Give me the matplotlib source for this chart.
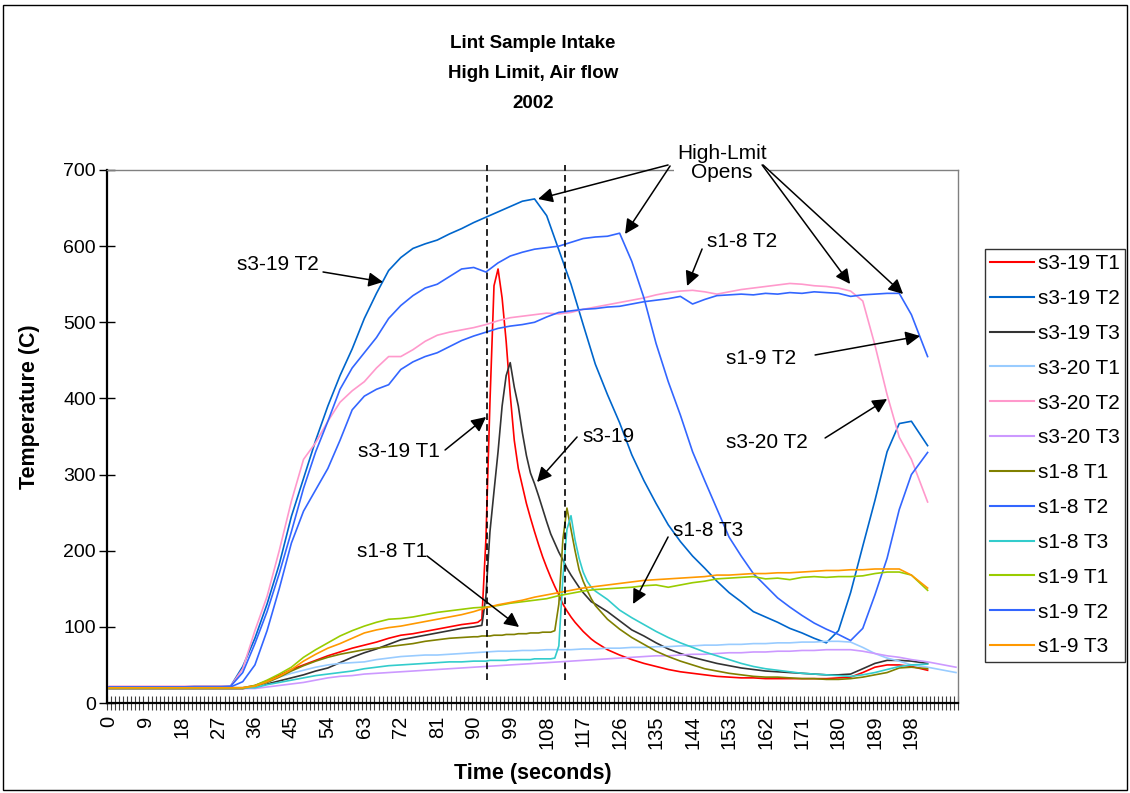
import matplotlib
matplotlib.use("Agg")
import matplotlib.pyplot as plt
from matplotlib.patches import Rectangle
from matplotlib.lines import Line2D
import numpy as np

plt.rcParams["font.family"] = ["Liberation Sans", "DejaVu Sans"]

W, H = 1130, 793

# ---- time bases (seconds) ----
T3 = [0, 3, 6, 9, 12, 15, 18, 21, 24, 27, 30, 33, 36, 39, 42, 45, 48, 51, 54, 57,
      60, 63, 66, 69, 72, 75, 78, 81, 84, 87, 90, 93, 96, 99, 102, 105, 108, 111, 114, 117,
      120, 123, 126, 129, 132, 135, 138, 141, 144, 147, 150, 153, 156, 159, 162, 165, 168, 171, 174, 177,
      180, 183, 186, 189, 192, 195, 198, 202]
T_LONG = T3 + [205, 209]
T_FINE = [0, 3, 6, 9, 12, 15, 18, 21, 24, 27, 30, 33, 36, 39, 42, 45, 48, 51, 54, 57,
          60, 63, 66, 69, 72, 75, 78, 81, 84, 87,
          90, 91, 92, 93, 94, 95, 96, 97, 98, 99, 100, 101, 102, 103, 104, 105, 106, 107, 108, 109,
          110, 111, 112, 113, 114, 115, 116, 117, 118, 119,
          120, 123, 126, 129, 132, 135, 138, 141, 144, 147, 150, 153, 156, 159, 162, 165, 168, 171, 174, 177,
          180, 183, 186, 189, 192, 195, 198, 202]

# ---- series (temperature, C) ----
S319_T1 = [20, 20, 20, 20, 20, 20, 20, 20, 20, 20, 20, 20, 23, 29, 36, 44, 50, 56, 62, 67,
           72, 76, 80, 85, 89, 91, 94, 97, 100, 103,
           105, 106, 110, 215, 395, 548, 570, 532, 475, 405, 345, 308, 285, 262, 243, 225, 208, 192, 178, 165,
           153, 142, 130, 121, 113, 106, 100, 94, 89, 84,
           80, 70, 63, 57, 52, 48, 44, 41, 39, 37, 35, 34, 33, 33, 32, 32, 32, 32, 32, 32,
           33, 34, 40, 47, 50, 50, 48, 43]
S319_T2 = [21, 21, 21, 21, 21, 21, 21, 22, 22, 22, 22, 48, 85, 130, 182, 245, 295, 345, 390, 430,
           465, 505, 538, 568, 585, 597, 603, 608, 616, 623, 631, 638, 645, 652, 659, 662, 640, 595, 550, 497,
           445, 405, 368, 326, 292, 262, 234, 212, 193, 177, 160, 145, 133, 120, 113, 106, 98, 92, 85, 79,
           95, 145, 206, 266, 330, 367, 370, 338]
S319_T3 = [19, 19, 19, 19, 19, 19, 19, 19, 19, 19, 19, 19, 21, 25, 29, 33, 37, 42, 46, 53,
           60, 66, 71, 77, 83, 86, 89, 92, 95, 98,
           100, 101, 102, 140, 225, 278, 330, 390, 430, 447, 415, 390, 355, 325, 302, 288, 272, 255, 238, 222,
           210, 198, 188, 177, 168, 160, 152, 145, 139, 133,
           130, 120, 108, 96, 88, 79, 71, 65, 60, 56, 52, 49, 46, 44, 42, 41, 40, 39, 38, 37,
           37, 38, 45, 52, 56, 56, 55, 52]
S320_T1 = [20, 20, 20, 20, 20, 20, 20, 20, 20, 20, 20, 20, 20, 27, 34, 39, 43, 47, 50, 52,
           53, 54, 57, 59, 61, 62, 63, 63, 64, 65, 66, 67, 68, 68, 69, 69, 70, 70, 70, 71,
           71, 72, 72, 73, 73, 74, 74, 75, 75, 76, 76, 77, 77, 78, 78, 79, 79, 80, 80, 81,
           81, 80, 73, 65, 59, 55, 50, 47, 44, 40]
S320_T2 = [22, 22, 22, 22, 22, 22, 22, 22, 22, 22, 22, 45, 95, 140, 200, 265, 320, 342, 370, 395,
           410, 422, 440, 455, 455, 464, 475, 483, 487, 490, 493, 497, 502, 506, 508, 510, 512, 511, 513, 517,
           520, 523, 526, 529, 532, 536, 539, 541, 542, 540, 537, 540, 543, 545, 547, 549, 551, 550, 548, 547,
           545, 541, 528, 470, 405, 349, 320, 264]
S320_T3 = [19, 19, 19, 19, 19, 19, 19, 19, 19, 19, 19, 19, 19, 21, 23, 25, 27, 30, 33, 35,
           36, 38, 39, 40, 41, 42, 43, 44, 45, 46, 47, 48, 49, 50, 51, 52, 53, 54, 55, 56,
           57, 58, 59, 60, 61, 62, 62, 63, 64, 64, 65, 66, 66, 67, 67, 68, 68, 69, 69, 70,
           70, 70, 68, 65, 62, 60, 57, 54, 51, 47]
S18_T1 = [19, 19, 19, 19, 19, 19, 19, 19, 19, 19, 19, 19, 22, 27, 34, 42, 49, 55, 60, 64,
          67, 70, 72, 74, 76, 78, 81, 83, 85, 86,
          87, 87, 88, 88, 88, 89, 89, 89, 90, 90, 90, 91, 91, 91, 92, 92, 92, 93, 93, 93,
          95, 130, 215, 256, 228, 200, 175, 160, 148, 137,
          128, 110, 97, 86, 77, 68, 61, 55, 50, 45, 42, 39, 37, 35, 34, 34, 33, 32, 32, 31,
          31, 32, 34, 37, 40, 46, 47, 45]
S18_T2 = [21, 21, 21, 21, 21, 21, 21, 21, 21, 21, 22, 40, 78, 120, 170, 225, 282, 330, 370, 412,
          440, 460, 480, 505, 522, 535, 545, 550, 560, 570, 572, 566, 578, 587, 592, 596, 598, 600, 605, 610,
          612, 613, 617, 580, 532, 472, 422, 378, 330, 292, 255, 218, 193, 170, 154, 138, 126, 115, 105, 97,
          90, 82, 98, 142, 190, 254, 300, 329]
S18_T3 = [20, 20, 20, 20, 20, 20, 20, 20, 20, 20, 20, 20, 20, 24, 27, 30, 33, 36, 38, 40,
          42, 45, 47, 49, 50, 51, 52, 53, 54, 54,
          55, 55, 55, 55, 56, 56, 56, 56, 56, 57, 57, 57, 57, 57, 57, 58, 58, 58, 58, 58,
          59, 75, 165, 228, 246, 214, 190, 172, 160, 152,
          147, 136, 122, 112, 103, 94, 86, 79, 73, 67, 62, 57, 52, 48, 45, 43, 41, 39, 38, 37,
          36, 35, 37, 40, 44, 48, 50, 51]
S19_T1 = [20, 20, 20, 20, 20, 20, 20, 20, 20, 20, 20, 20, 23, 30, 38, 47, 60, 70, 79, 88,
          95, 101, 106, 110, 111, 113, 116, 119, 121, 123, 125, 126, 128, 131, 133, 135, 137, 141, 144, 147,
          149, 150, 151, 152, 154, 155, 152, 155, 158, 160, 163, 164, 165, 166, 163, 164, 162, 165, 166, 165,
          166, 166, 167, 170, 172, 172, 168, 148]
S19_T2 = [21, 21, 21, 21, 21, 21, 21, 21, 21, 21, 21, 28, 50, 95, 150, 210, 252, 280, 308, 345,
          385, 403, 412, 418, 438, 448, 455, 460, 468, 476, 482, 487, 492, 495, 497, 500, 507, 513, 515, 517,
          518, 520, 521, 524, 527, 529, 531, 534, 524, 530, 535, 536, 537, 536, 538, 537, 539, 538, 540, 539,
          538, 534, 536, 537, 538, 538, 510, 455]
S19_T3 = [20, 20, 20, 20, 20, 20, 20, 20, 20, 20, 20, 20, 22, 28, 35, 44, 55, 64, 72, 78,
          85, 92, 96, 99, 101, 104, 107, 110, 113, 116, 120, 125, 129, 132, 135, 139, 142, 145, 148, 151,
          153, 155, 157, 159, 161, 162, 163, 164, 165, 166, 168, 168, 169, 170, 170, 171, 171, 172, 173, 174,
          174, 175, 175, 176, 176, 176, 168, 151]

LABELS = ["s3-19 T1", "s3-19 T2", "s3-19 T3", "s3-20 T1", "s3-20 T2", "s3-20 T3",
          "s1-8 T1", "s1-8 T2", "s1-8 T3", "s1-9 T1", "s1-9 T2", "s1-9 T3"]
COLORS = ["#FF0000", "#0066CC", "#333333", "#99CCFF", "#FF99CC", "#CC99FF",
          "#808000", "#3366FF", "#33CCCC", "#99CC00", "#3366FF", "#FF9900"]
SERIES = [(T_FINE, S319_T1), (T3, S319_T2), (T_FINE, S319_T3), (T_LONG, S320_T1),
          (T3, S320_T2), (T_LONG, S320_T3), (T_FINE, S18_T1), (T3, S18_T2),
          (T_FINE, S18_T3), (T3, S19_T1), (T3, S19_T2), (T3, S19_T3)]

X_LABELS = list(range(0, 199, 9))
N_CAT = 210


def px_to_data(x, y):
    # pixel position in the figure -> data coords of the plot
    return (x - 109.0) / 4.052, (703.0 - y) / 0.7614


fig = plt.figure(figsize=(W / 100, H / 100), dpi=100)
ax = fig.add_axes([107 / W, (H - 703) / H, 851 / W, 533 / H])
ax.set_xlim(-0.5, N_CAT - 0.5)
ax.set_ylim(0, 700)

for (t, v), lab, col in zip(SERIES, LABELS, COLORS):
    ax.plot(t, v, color=col, lw=1.2, label=lab, zorder=3)

# axes styling
for s in ("top", "right"):
    ax.spines[s].set_color("#808080")
    ax.spines[s].set_linewidth(1.0)
for s in ("left", "bottom"):
    ax.spines[s].set_color("black")
    ax.spines[s].set_linewidth(1.6)

ax.set_yticks(range(0, 701, 100))
ax.tick_params(axis="y", direction="inout", length=12, width=1, labelsize=14, pad=2)
ax.set_xticks(X_LABELS)
ax.set_xticklabels([str(v) for v in X_LABELS], rotation=90)
ax.set_xticks(np.arange(-0.5, N_CAT, 1), minor=True)
ax.tick_params(axis="x", which="major", length=0, labelsize=14.5, pad=9)
ax.tick_params(axis="x", which="minor", direction="inout", length=10, width=0.8, color="#404040")

# dashed marker lines
for xv in (93.2, 112.5):
    ax.plot([xv, xv], [30, 707], color="black", lw=1.2, ls=(0, (4, 2.5)), clip_on=False, zorder=4)

# annotations
AFONT = dict(fontsize=15, color="black", zorder=6)
ARROW = dict(arrowstyle="-|>", color="black", lw=1.1, mutation_scale=22, shrinkA=0, shrinkB=0)


def arrow(tail, tip):
    ax.annotate("", xy=px_to_data(*tip), xytext=px_to_data(*tail),
                arrowprops=ARROW, annotation_clip=False, zorder=6)


hx, hy = px_to_data(722, 163)
ax.text(hx, hy, "High-Lmit\nOpens", ha="center", va="center", linespacing=1.05,
        bbox=dict(boxstyle="square,pad=0.15", fc="white", ec="none"), clip_on=False, **AFONT)
arrow((668, 165), (538, 199))
arrow((670, 166), (625, 234))
arrow((762, 165), (850, 284))
arrow((763, 165), (903, 294))

for txt, pos, tail, tip in [
    ("s3-19 T2", (278, 265), (323, 272), (383, 282)),
    ("s1-8 T2", (742, 242), (702, 249), (687, 286)),
    ("s1-9 T2", (761, 359), (815, 355), (920, 336)),
    ("s3-20 T2", (767, 443), (825, 438), (887, 399)),
    ("s3-19 T1", (399, 452), (445, 450), (486, 417)),
    ("s3-19", (608, 437), (577, 437), (537, 482)),
    ("s1-8 T1", (392, 552), (427, 556), (519, 627)),
    ("s1-8 T3", (708, 531), (668, 537), (633, 604)),
]:
    x, y = px_to_data(*pos)
    ax.text(x, y, txt, ha="center", va="center", clip_on=False, **AFONT)
    arrow(tail, tip)

# titles
for i, line in enumerate(["Lint Sample Intake", "High Limit, Air flow", "2002"]):
    fig.text(533 / W, 1 - (44 + 30 * i) / H, line, ha="center", va="center",
             fontsize=13.5, fontweight="bold")
fig.text(30 / W, 1 - 407 / H, "Temperature (C)", rotation=90, ha="center", va="center",
         fontsize=15.5, fontweight="bold")
fig.text(533 / W, 1 - 773 / H, "Time (seconds)", ha="center", va="center",
         fontsize=15.5, fontweight="bold")

# legend
handles = [Line2D([], [], color=c, lw=1.5) for c in COLORS]
leg = fig.legend(handles, LABELS, loc="upper left", bbox_to_anchor=(985 / W, 1 - 249 / H),
                 fontsize=15, frameon=True, fancybox=False, edgecolor="black",
                 handlelength=2.1, handletextpad=0.2, labelspacing=0.76, borderpad=0.25,
                 borderaxespad=0)
leg.get_frame().set_linewidth(1.0)

# chart border
fig.patches.append(Rectangle((3 / W, 3 / H), 1124 / W, 785 / H, transform=fig.transFigure,
                             fill=False, ec="black", lw=1.0))

fig.savefig("out.png", dpi=100, facecolor="white")
